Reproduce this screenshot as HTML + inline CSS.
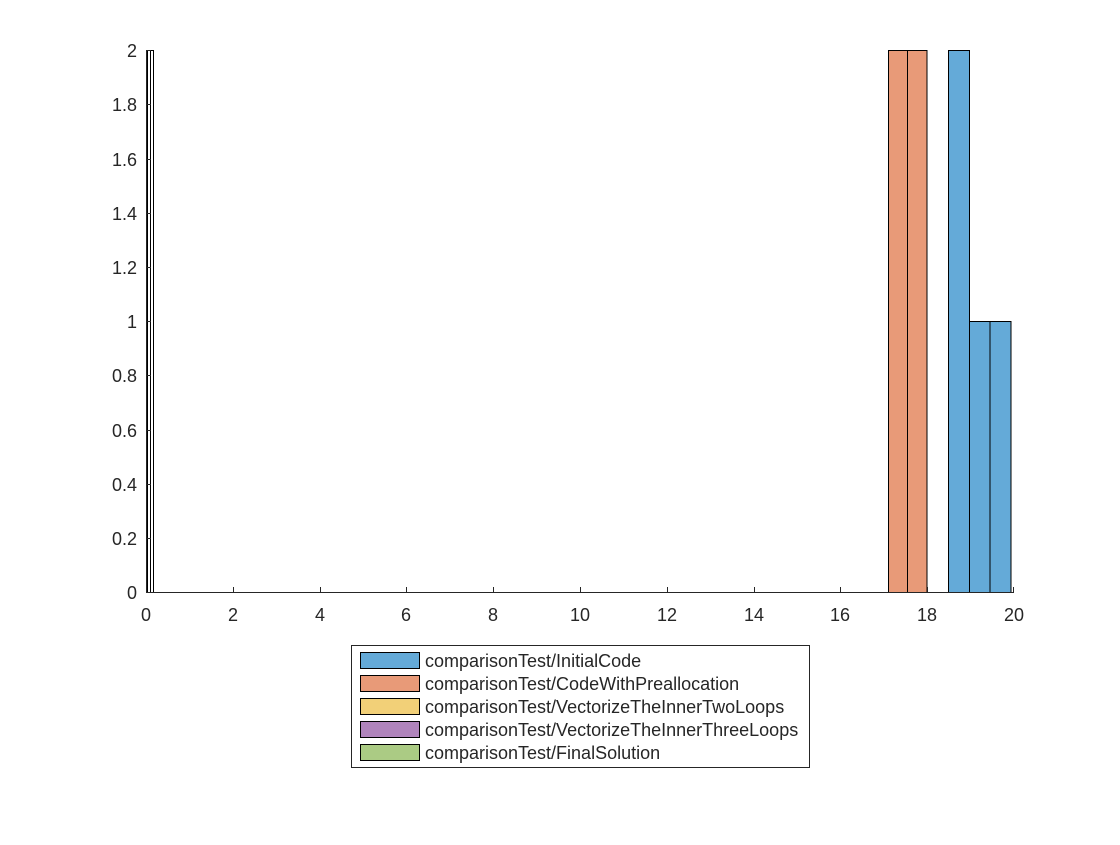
<!DOCTYPE html><html><head><style>body{margin:0;background:#fff}svg text{font-family:"Liberation Sans",sans-serif;font-size:18px;fill:#262626}</style></head><body>
<svg width="1120" height="840" xmlns="http://www.w3.org/2000/svg">
<rect width="1120" height="840" fill="#fff"/>
<g stroke="#000" stroke-width="1">
<rect x="147.5" y="50.5" width="3" height="542" fill="#fff"/>
<rect x="150.5" y="50.5" width="3" height="542" fill="#fff"/>
<rect x="888.5" y="50.5" width="19" height="542" fill="#E89A78"/>
<rect x="907.5" y="50.5" width="19.5" height="542" fill="#E89A78"/>
<rect x="948.5" y="50.5" width="21" height="542" fill="#64AAD8"/>
<rect x="969.5" y="321.5" width="20.5" height="271" fill="#64AAD8"/>
<rect x="990" y="321.5" width="21" height="271" fill="#64AAD8"/>
</g>
<g stroke="#262626" stroke-width="1">
<line x1="146.5" y1="50" x2="146.5" y2="593"/>
<line x1="146" y1="592.5" x2="1014" y2="592.5"/>
<path d="M146.5 592v-5M233.5 592v-5M320.5 592v-5M406.5 592v-5M493.5 592v-5M580.5 592v-5M667.5 592v-5M754.5 592v-5M840.5 592v-5M927.5 592v-5M1013.5 592v-5"/>
<path d="M146 592.5h5M146 538.5h5M146 484.5h5M146 430.5h5M146 375.5h5M146 321.5h5M146 267.5h5M146 213.5h5M146 159.5h5M146 104.5h5M146 50.5h5"/>
</g>
<g text-anchor="middle">
<text x="146" y="621">0</text><text x="233" y="621">2</text><text x="320" y="621">4</text><text x="406" y="621">6</text><text x="493" y="621">8</text><text x="580" y="621">10</text><text x="667" y="621">12</text><text x="754" y="621">14</text><text x="840" y="621">16</text><text x="927" y="621">18</text><text x="1014" y="621">20</text>
</g>
<g text-anchor="end">
<text x="137" y="599">0</text><text x="137" y="545">0.2</text><text x="137" y="491">0.4</text><text x="137" y="437">0.6</text><text x="137" y="382">0.8</text><text x="137" y="328">1</text><text x="137" y="274">1.2</text><text x="137" y="220">1.4</text><text x="137" y="166">1.6</text><text x="137" y="111">1.8</text><text x="137" y="57">2</text>
</g>
<rect x="351.5" y="645.5" width="458" height="122" fill="#fff" stroke="#262626"/>
<g stroke="#000">
<rect x="360.5" y="652.5" width="59" height="16" fill="#64AAD8"/>
<rect x="360.5" y="675.5" width="59" height="16" fill="#E89A78"/>
<rect x="360.5" y="698.5" width="59" height="16" fill="#F2D078"/>
<rect x="360.5" y="721.5" width="59" height="16" fill="#B084BC"/>
<rect x="360.5" y="744.5" width="59" height="16" fill="#ABCB84"/>
</g>
<g textLength="0">
<text x="425" y="667">comparisonTest/InitialCode</text>
<text x="425" y="690">comparisonTest/CodeWithPreallocation</text>
<text x="425" y="713">comparisonTest/VectorizeTheInnerTwoLoops</text>
<text x="425" y="736">comparisonTest/VectorizeTheInnerThreeLoops</text>
<text x="425" y="759">comparisonTest/FinalSolution</text>
</g>
</svg></body></html>
